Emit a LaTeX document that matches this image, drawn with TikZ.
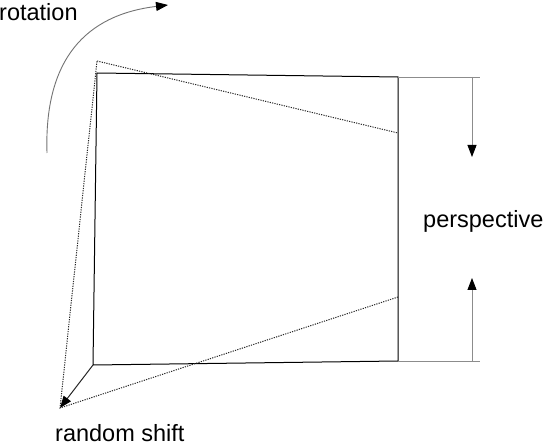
\documentclass[tikz,border=0pt]{standalone}
\usepackage{fontspec}
\setmainfont{Liberation Sans}
\usetikzlibrary{arrows.meta}
\begin{document}
\begin{tikzpicture}[x=1pt,y=-1pt,
  solidedge/.style={draw=black,line width=1pt},
  dottededge/.style={draw=black!85,line width=1pt,dash pattern=on 1.2pt off 1.2pt},
  guide/.style={draw=black!45,line width=0.9pt},
  tip/.style={-{Triangle[length=12pt,width=9pt,color=black]}},
  lbl/.style={inner sep=0pt,font=\fontsize{23.5}{26}\selectfont}]
\useasboundingbox (0,0) rectangle (546,446);
% solid square
\coordinate (A) at (97,73);
\coordinate (B) at (398,77);
\coordinate (C) at (398,361);
\coordinate (D) at (93,365);
% dotted quad
\coordinate (E) at (97,61);
\coordinate (F) at (398,133);
\coordinate (G) at (398,297);
\coordinate (H) at (60,408);
\draw[solidedge] (A) -- (B) -- (C) -- (D) -- cycle;
\draw[dottededge] (E) -- (F);
\draw[dottededge] (G) -- (H) -- (E);
% shift arrow
\draw[draw=black!85,line width=1pt,tip] (D) -- (H);
% perspective guides
\coordinate (P1) at (480,77);
\coordinate (P2) at (480,361);
\coordinate (Q1) at (472,77);
\coordinate (Q2) at (472,157);
\coordinate (R1) at (472,361);
\coordinate (R2) at (472,278);
\draw[guide] (B) -- (P1);
\draw[guide] (C) -- (P2);
\draw[guide,tip] (Q1) -- (Q2);
\draw[guide,tip] (R1) -- (R2);
% rotation arc
\coordinate (S) at (47,153);
\coordinate (T) at (168,5);
\draw[draw=black!55,line width=0.9pt,tip] (S) .. controls (44,60) and (85,15) .. (T);
% labels
\node[lbl,anchor=base west] (rot) at (-1,21) {rotation};
\node[lbl,anchor=base west] (persp) at (423,228) {perspective};
\node[lbl,anchor=base west] (shift) at (55,441) {random shift};
\end{tikzpicture}
\end{document}
